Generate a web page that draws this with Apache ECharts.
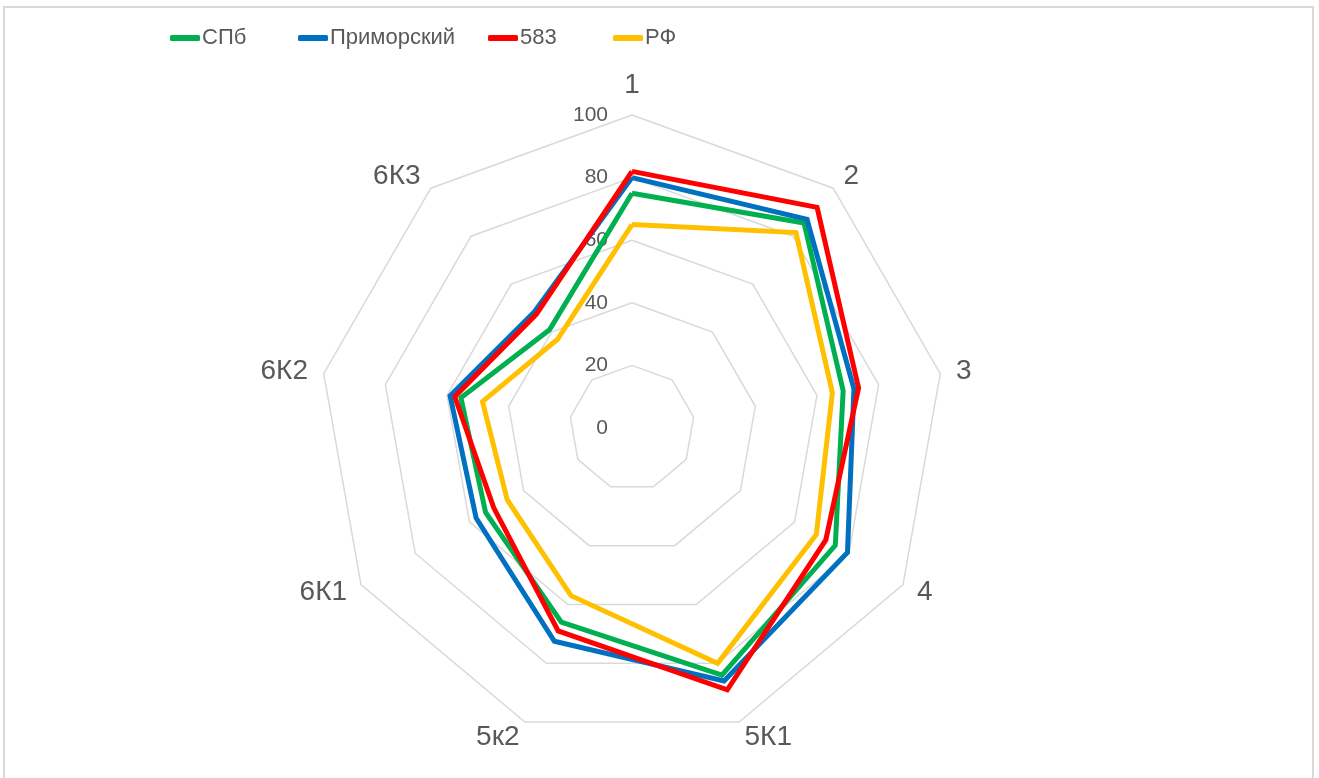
<!DOCTYPE html>
<html>
<head>
<meta charset="utf-8">
<script src="https://cdn.jsdelivr.net/npm/echarts@6/dist/echarts.min.js"></script>
<style>
  html, body { margin: 0; padding: 0; background: #fff; overflow: hidden; }
  #chart { position: absolute; left: 0; top: 0; width: 1319px; height: 778px; }
  #frame { position: absolute; left: 3px; top: 6px; width: 1307px; height: 800px;
           border: 2px solid #d9d9d9; pointer-events: none; }
</style>
</head>
<body>
<div id="chart"></div>
<div id="frame"></div>
<script>
const categories = ["1", "2", "3", "4", "5К1", "5к2", "6К1", "6К2", "6К3"];
const seriesNames = ["СПб", "Приморский", "583", "РФ"];
const spb = [75, 85.5, 68.5, 75, 84, 66, 54, 55.5, 41];
const primorsky = [80, 87, 72, 79.5, 86, 72.5, 57.5, 59, 48.5];
const school583 = [82, 92, 73.5, 71.5, 89, 69, 51, 57.5, 47.5];
const rf = [65, 81.5, 65, 68, 80, 57, 46, 48.5, 37];
const colors = ["#00B050", "#0070C0", "#FF0000", "#FFC000"];
const legendLeft = [170, 298, 488, 613];

const chart = echarts.init(document.getElementById("chart"));

// ECharts lays radar axes counter-clockwise; keep the first one on top and
// reverse the rest so the categories run clockwise like the original.
const order = [0].concat(categories.map((_, i) => i).slice(1).reverse());
const reorder = arr => order.map(i => arr[i]);

const indicators = reorder(categories).map((name, i) => {
  const ind = { name: name, min: 0, max: 100 };
  if (i === 0) ind.axisLabel = { show: true };
  return ind;
});

const values = [spb, primorsky, school583, rf];

const legends = seriesNames.map((name, i) => ({
  top: 27,
  left: legendLeft[i],
  padding: 0,
  itemWidth: 30,
  itemHeight: 6,
  icon: "roundRect",
  textStyle: {
    fontFamily: "Liberation Sans Narrow, Liberation Sans, sans-serif",
    fontSize: 22,
    color: "#595959",
    padding: [0, 0, 0, -3]
  },
  data: [name]
}));

chart.setOption({
  animation: false,
  color: colors,
  legend: legends,
  radar: {
    center: [632, 428],
    radius: 313,
    startAngle: 90,
    splitNumber: 5,
    shape: "polygon",
    indicator: indicators,
    axisName: {
      color: "#595959",
      fontSize: 28,
      fontFamily: "Liberation Sans, Arial, sans-serif"
    },
    nameGap: 16,
    axisLine: { show: false },
    axisTick: { show: false },
    axisLabel: {
      show: false,
      color: "#595959",
      fontSize: 21,
      fontFamily: "Liberation Sans, Arial, sans-serif",
      margin: 24
    },
    splitLine: { lineStyle: { color: "#d9d9d9", width: 1.5 } },
    splitArea: { show: false }
  },
  series: seriesNames.map((name, i) => ({
    name: name,
    type: "radar",
    symbol: "none",
    lineStyle: { width: 5, color: colors[i], join: "miter" },
    itemStyle: { color: colors[i] },
    data: [{ value: reorder(values[i]), name: name }]
  }))
});
</script>
</body>
</html>
